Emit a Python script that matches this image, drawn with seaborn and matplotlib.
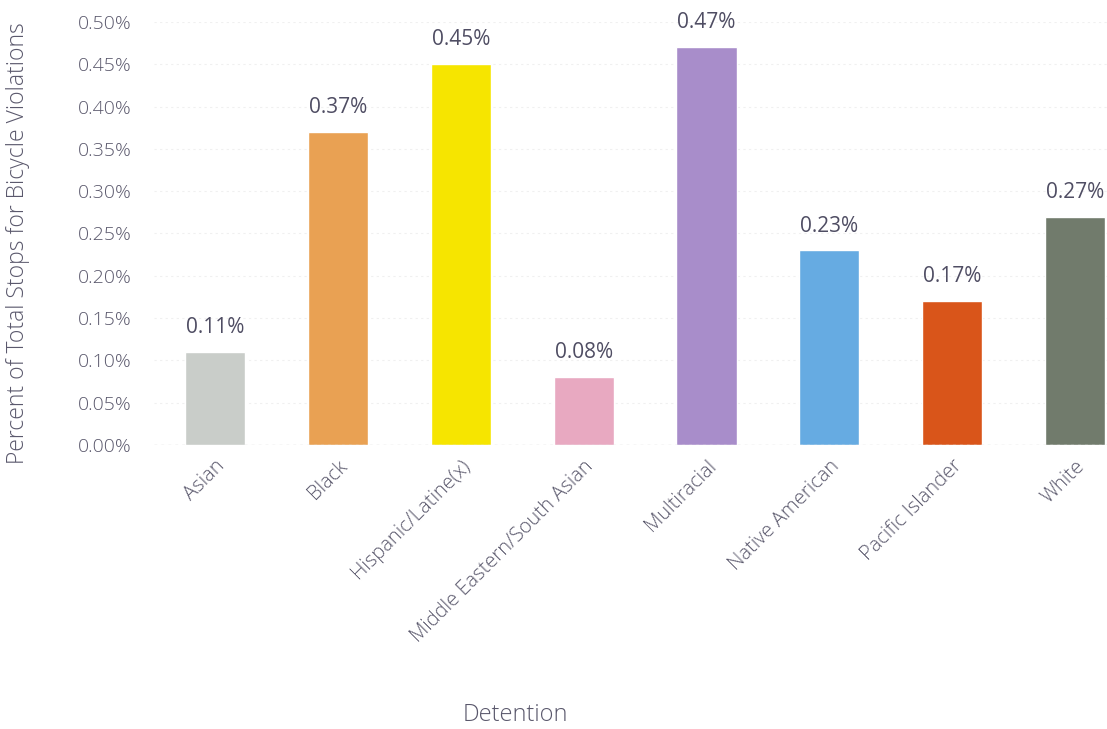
import matplotlib
matplotlib.use("Agg")
import matplotlib.pyplot as plt
import seaborn as sns
import pandas as pd
from matplotlib.ticker import FuncFormatter, MultipleLocator

categories = ["Asian", "Black", "Hispanic/Latine(x)", "Middle Eastern/South Asian",
              "Multiracial", "Native American", "Pacific Islander", "White"]
values = [0.11, 0.37, 0.45, 0.08, 0.47, 0.23, 0.17, 0.27]
colors = ["#c9cdc9", "#e9a153", "#f6e500", "#e8a9c1", "#a88dca", "#66abe2", "#d9551a", "#717b6c"]

sns.set_theme(style="white")
plt.rcParams['font.family'] = ['Open Sans', 'DejaVu Sans']
plt.rcParams['font.weight'] = 'light'
txt = "#5a586c"

df = pd.DataFrame({"cat": categories, "val": values})
fig = plt.figure(figsize=(11.07, 7.29), dpi=100)
ax = fig.add_axes([154/1107, (729-445)/729, (1107-154)/1107, (445-22)/729])
sns.barplot(data=df, x="cat", y="val", hue="cat", palette=colors, legend=False,
            width=0.49, ax=ax, saturation=1)

ax.set_xlim(-0.497, 7.26)
ax.set_ylim(0, 0.5)
ax.yaxis.set_major_locator(MultipleLocator(0.05))
ax.yaxis.set_major_formatter(FuncFormatter(lambda v, p: f"{v:.2f}%"))
ax.grid(axis="y", color="#f0f0f0", linewidth=0.8, linestyle=(0, (2, 3)))
ax.set_axisbelow(True)
for s in ax.spines.values():
    s.set_visible(False)
ax.axhline(0, color="#d8d8d8", linewidth=1, linestyle=(0, (2, 3)))

ax.tick_params(axis="y", labelsize=14, colors=txt, pad=16, length=0)
ax.tick_params(axis="x", labelsize=14.5, colors=txt, length=0, pad=8)
for lab in ax.get_xticklabels():
    lab.set_rotation(45)
    lab.set_ha("right")
    lab.set_rotation_mode("anchor")

for i, v in enumerate(values):
    ax.annotate(f"{v:.2f}%", (i, v), xytext=(0, 10), textcoords="offset points",
                ha="center", va="bottom", fontsize=15, color="#4f4d63", fontweight="normal")

ax.set_xlabel("")
ax.set_ylabel("")
fig.text(18/1107, 1 - 243/729, "Percent of Total Stops for Bicycle Violations", rotation=90,
         ha="center", va="center", fontsize=16.5, color=txt)
fig.text(515/1107, 1 - 715/729, "Detention", ha="center", va="center", fontsize=17, color=txt)

fig.savefig("out.png", dpi=100)
